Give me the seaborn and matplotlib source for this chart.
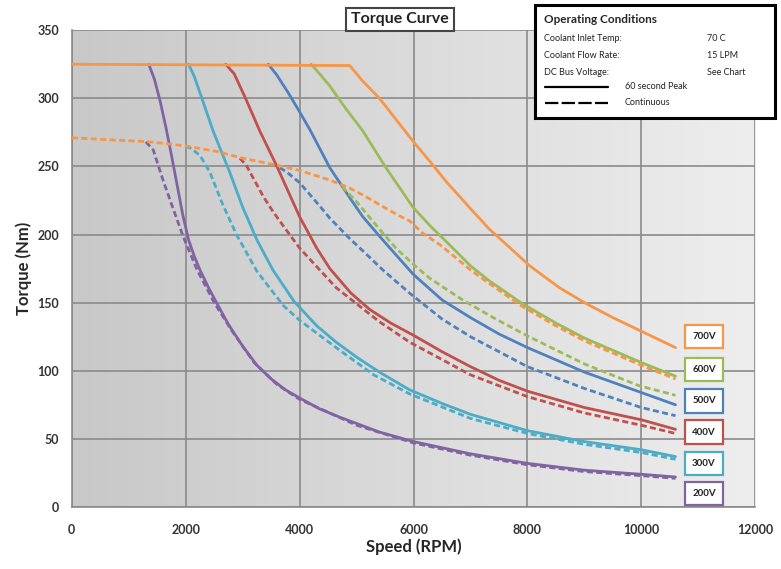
import numpy as np
import pandas as pd
import matplotlib
matplotlib.use("Agg")
import matplotlib.pyplot as plt
from matplotlib.colors import LinearSegmentedColormap
from matplotlib.patches import Rectangle
import seaborn as sns

# bus voltages and their colours (Office palette)
voltages = ["200V", "300V", "400V", "500V", "600V", "700V"]
colors = ["#8064A2", "#4BACC6", "#C0504D", "#4F81BD", "#9BBB59", "#F79646"]
label_y = [10, 32, 55, 78, 101, 125]

# 60 second peak curves (rpm, Nm); lower voltages start where they leave the 325 Nm plateau
peak_rpm = {
    "200V": [1350, 1450, 1550, 1650, 1750, 1850, 1950, 2050, 2150, 2250, 2400, 2540, 2750, 3000, 3250, 3500, 3750, 4000, 4350, 4700, 5400, 6000, 7000, 8000, 9000, 10000, 10600],
    "300V": [2050, 2150, 2300, 2480, 2770, 3000, 3250, 3530, 3900, 4300, 4640, 5000, 5400, 5930, 6500, 7000, 8000, 9000, 10000, 10600],
    "400V": [2700, 2850, 3050, 3300, 3590, 4000, 4300, 4530, 4900, 5230, 5600, 6000, 6500, 7000, 7500, 8000, 9000, 10000, 10600],
    "500V": [3450, 3600, 3800, 4000, 4180, 4530, 4880, 5110, 5460, 5990, 6500, 7000, 7500, 8000, 9000, 10000, 10600],
    "600V": [4200, 4350, 4530, 4800, 5110, 5500, 5990, 6300, 6570, 7000, 7330, 7920, 8500, 9000, 9500, 10000, 10600],
    "700V": [0, 4880, 5100, 5400, 5700, 6000, 6300, 6570, 7000, 7330, 7700, 8040, 8560, 9000, 9500, 10000, 10600],
}
peak_torque = {
    "200V": [325, 314, 298, 279, 258, 236, 214, 196, 184, 174, 161, 150, 134, 118, 104, 94, 86, 80, 72, 66, 55, 48, 39, 32, 27, 24, 22],
    "300V": [325, 316, 298, 276, 246, 220, 196, 174, 151, 133, 121, 110, 99, 86, 76, 68, 56, 48, 42, 37],
    "400V": [325, 318, 300, 276, 251, 213, 190, 175, 157, 145, 135, 126, 114, 103, 93, 85, 73, 64, 57],
    "500V": [325, 317, 304, 290, 277, 249, 227, 213, 196, 171, 152, 139, 127, 117, 99, 84, 75],
    "600V": [325, 318, 309, 293, 276, 250, 220, 206, 195, 177, 166, 149, 135, 124, 115, 106, 96],
    "700V": [325, 324, 313, 300, 284, 268, 253, 239, 219, 204, 190, 177, 161, 150, 139, 129, 117],
}

# continuous curves (rpm, Nm); lower voltages branch off the 700V continuous curve
cont_rpm = {
    "200V": [1300, 1430, 1600, 1770, 1950, 2200, 2500, 2800, 3200, 3600, 4000, 5000, 6000, 7000, 8000, 9000, 10000, 10600],
    "300V": [2000, 2100, 2250, 2420, 2650, 2890, 3250, 3710, 4000, 4640, 5300, 5930, 7000, 8000, 9000, 10000, 10600],
    "400V": [2950, 3060, 3360, 3530, 3700, 4000, 4640, 5400, 5930, 7000, 8000, 9000, 10000, 10600],
    "500V": [3650, 3770, 4000, 4290, 4530, 4880, 5110, 5460, 5930, 6500, 7000, 8000, 9000, 10000, 10600],
    "600V": [4750, 5000, 5400, 5690, 6000, 6280, 6860, 7400, 7980, 9000, 9960, 10600],
    "700V": [0, 1370, 2000, 2540, 3000, 3590, 4000, 4530, 4880, 5110, 5400, 5690, 5930, 6160, 6480, 7000, 7330, 7920, 8500, 9000, 9500, 10000, 10600],
}
cont_torque = {
    "200V": [268, 262, 240, 220, 199, 174, 150, 130, 106, 90, 79, 60, 47, 38, 31, 26, 23, 21],
    "300V": [265, 263, 258, 246, 222, 200, 173, 148, 137, 117, 97, 83, 65, 54, 46, 40, 35],
    "400V": [256, 251, 228, 217, 207, 190, 161, 136, 121, 97, 81, 69, 60, 54],
    "500V": [249, 246, 238, 224, 212, 197, 188, 174, 157, 138, 125, 103, 87, 73, 67],
    "600V": [235, 224, 204, 190, 178, 168, 152, 139, 126, 105, 89, 82],
    "700V": [271, 268, 265, 261, 256, 251, 247, 240, 234, 229, 222, 215, 210, 201, 192, 174, 164, 147, 133, 122, 113, 104, 94],
}

rows = []
for v in voltages:
    for r, t in zip(peak_rpm[v], peak_torque[v]):
        rows.append((v, "60 second Peak", r, t))
    for r, t in zip(cont_rpm[v], cont_torque[v]):
        rows.append((v, "Continuous", r, t))
df = pd.DataFrame(rows, columns=["voltage", "rating", "rpm", "torque"])

sns.set_style("white")
plt.rcParams["font.family"] = ["Lato", "DejaVu Sans"]

fig = plt.figure(figsize=(7.81, 5.69), dpi=100)
ax = fig.add_axes([0.092, 0.109, 0.875, 0.838])

# gradient plot background
bg = LinearSegmentedColormap.from_list("bg", ["#c8c8c9", "#eeeeee"])
ax.imshow(np.linspace(0, 1, 256)[None, :], extent=[0, 1, 0, 1], transform=ax.transAxes,
          aspect="auto", cmap=bg, zorder=0)

for xv in range(0, 12001, 2000):
    ax.axvline(xv, color="#8a8a8a", lw=1.2, zorder=1)
for yv in range(0, 351, 50):
    ax.axhline(yv, color="#8a8a8a", lw=1.2, zorder=1)

sns.lineplot(data=df, x="rpm", y="torque", hue="voltage", style="rating",
             hue_order=voltages, palette=dict(zip(voltages, colors)),
             style_order=["60 second Peak", "Continuous"],
             dashes={"60 second Peak": "", "Continuous": (2.2, 1.2)},
             estimator=None, sort=False, legend=False, lw=2.0, ax=ax, zorder=3)

ax.set_xlim(0, 12000)
ax.set_ylim(0, 350)
ax.set_xticks(range(0, 12001, 2000))
ax.set_yticks(range(0, 351, 50))
for s in ["top", "right"]:
    ax.spines[s].set_visible(False)
for s in ["left", "bottom"]:
    ax.spines[s].set_color("#8a8a8a")
    ax.spines[s].set_linewidth(1.2)
ax.tick_params(axis="y", length=5, color="#8a8a8a", width=1.2, labelsize=9, pad=4)
ax.tick_params(axis="x", length=0, labelsize=9, pad=12)
for lab in ax.get_xticklabels() + ax.get_yticklabels():
    lab.set_fontweight("bold")
    lab.set_color("#333333")
ax.set_xlabel("Speed (RPM)", fontsize=12, fontweight="bold", labelpad=2)
ax.set_ylabel("Torque (Nm)", fontsize=12, fontweight="bold", labelpad=4)

# voltage tags at the right end
for v, c, ty in zip(voltages, colors, label_y):
    ax.text(11100, ty, v, ha="center", va="center", fontsize=7, fontweight="bold",
            color="#222222", zorder=5,
            bbox=dict(boxstyle="square,pad=0.75", fc="white", ec=c, lw=1.6))

# title box
fig.text(0.512, 0.966, "Torque Curve", ha="center", va="center", fontsize=11.5,
         fontweight="bold", color="#222222",
         bbox=dict(boxstyle="square,pad=0.3", fc="white", ec="#444444", lw=1.5))

# operating conditions box
fig.patches.append(Rectangle((0.685, 0.793), 0.307, 0.198, transform=fig.transFigure,
                             fc="white", ec="black", lw=2.2, zorder=5))
tx = 0.696
fig.text(tx, 0.965, "Operating Conditions", fontsize=8.5, fontweight="bold", va="center", zorder=6)
conds = [("Coolant Inlet Temp:", "70 C"), ("Coolant Flow Rate:", "15 LPM"),
         ("DC Bus Voltage:", "See Chart")]
for i, (k, val) in enumerate(conds):
    yy = 0.933 - i * 0.030
    fig.text(tx, yy, k, fontsize=6.5, va="center", color="#222222", zorder=6)
    fig.text(0.905, yy, val, fontsize=6.5, va="center", color="#222222", zorder=6)
fig.add_artist(plt.Line2D([0.698, 0.778], [0.847, 0.847], color="black", lw=1.6,
                          transform=fig.transFigure, zorder=6))
fig.add_artist(plt.Line2D([0.698, 0.778], [0.819, 0.819], color="black", lw=1.6,
                          dashes=(6, 1.5), transform=fig.transFigure, zorder=6))
fig.text(0.800, 0.848, "60 second Peak", fontsize=6.5, va="center", color="#222222", zorder=6)
fig.text(0.800, 0.819, "Continuous", fontsize=6.5, va="center", color="#222222", zorder=6)

fig.savefig("out.png", dpi=100)
